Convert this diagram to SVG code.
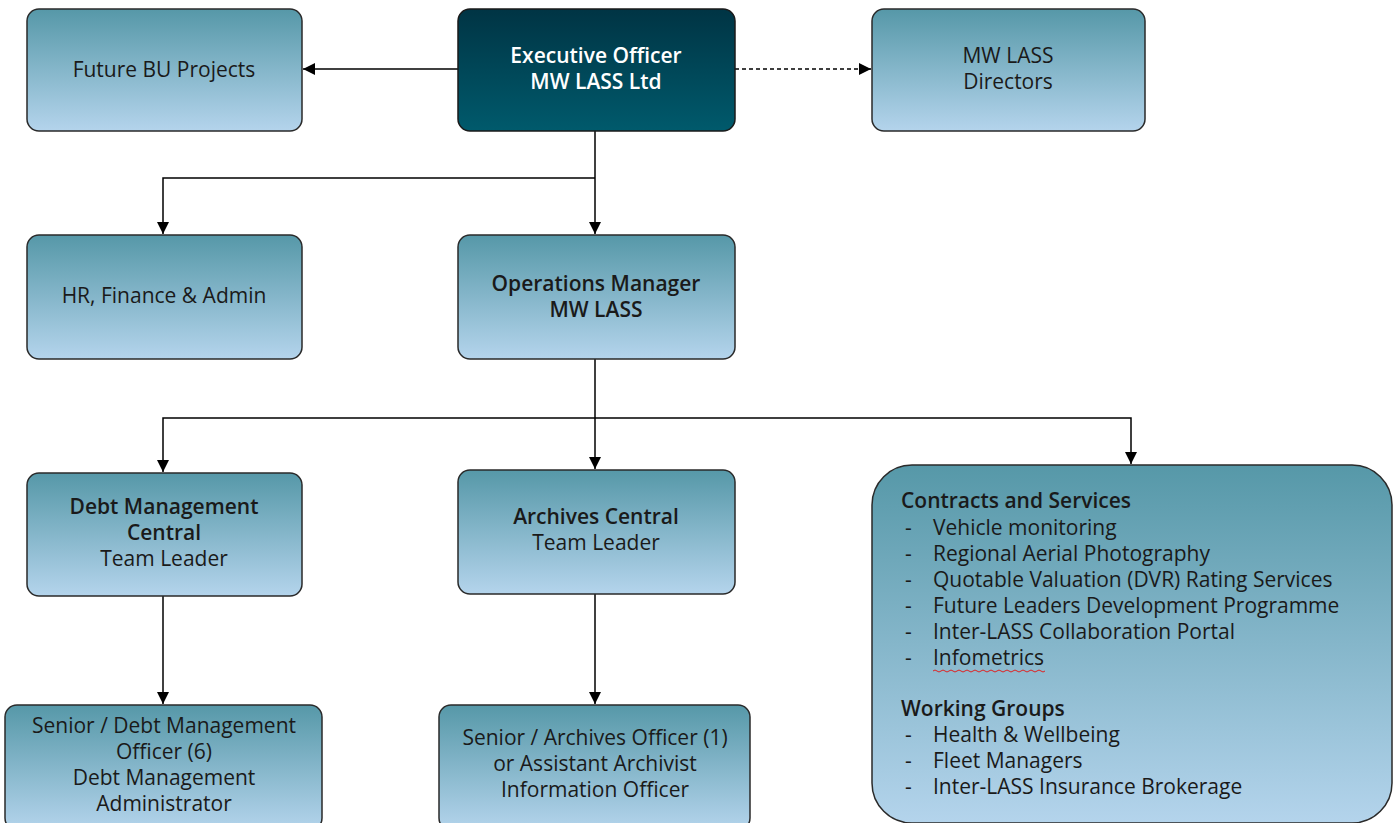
<svg xmlns="http://www.w3.org/2000/svg" width="1395" height="823" viewBox="0 0 1395 823">
<defs>
<linearGradient id="lg" x1="0" y1="0" x2="0" y2="1">
<stop offset="0" stop-color="#5698a8"/>
<stop offset="1" stop-color="#b4d4ec"/>
</linearGradient>
<linearGradient id="dg" x1="0" y1="0" x2="0" y2="1">
<stop offset="0" stop-color="#003444"/>
<stop offset="1" stop-color="#005a6c"/>
</linearGradient>
<marker id="ah" markerWidth="12" markerHeight="12" viewBox="0 0 12 12" refX="12" refY="6" orient="auto" markerUnits="userSpaceOnUse">
<path d="M0,0 L12,6 L0,12 z" fill="#000"/>
</marker>
</defs>
<style>
.box{fill:url(#lg);stroke:#2a2a2a;stroke-width:1.5}
.dark{fill:url(#dg);stroke:#1a1a1a;stroke-width:1.5}
text{font-family:"Open Sans","Liberation Sans",sans-serif;font-size:21px;fill:#1a1a1a}
.c{text-anchor:middle}
.w{fill:#ffffff;font-weight:600}
.b{font-weight:600}
.conn{fill:none;stroke:#000;stroke-width:1.5}
</style>
<rect width="1395" height="823" fill="#ffffff"/>
<g id="connectors">
<path class="conn" d="M458,69 H303" marker-end="url(#ah)"/>
<path class="conn" d="M735,69 H871" stroke-dasharray="4,3" marker-end="url(#ah)"/>
<path class="conn" d="M595,131 V234" marker-end="url(#ah)"/>
<path class="conn" d="M595,178 H163 V234" marker-end="url(#ah)"/>
<path class="conn" d="M595,359 V469" marker-end="url(#ah)"/>
<path class="conn" d="M595,418 H163 V472" marker-end="url(#ah)"/>
<path class="conn" d="M595,418 H1131 V464" marker-end="url(#ah)"/>
<path class="conn" d="M163,596 V704" stroke="#444" marker-end="url(#ah)"/>
<path class="conn" d="M595,594 V704" marker-end="url(#ah)"/>
</g>
<g id="future-bu">
<rect class="box" x="27" y="9" width="275" height="122" rx="12"/>
<text class="c" x="164" y="77">Future BU Projects</text>
</g>
<g id="exec">
<rect class="dark" x="458" y="9" width="277" height="122" rx="12"/>
<text class="c w" x="596" y="63">Executive Officer</text>
<text class="c w" x="596" y="89">MW LASS Ltd</text>
</g>
<g id="directors">
<rect class="box" x="872" y="9" width="273" height="122" rx="12"/>
<text class="c" x="1008" y="63">MW LASS</text>
<text class="c" x="1008" y="89">Directors</text>
</g>
<g id="hr">
<rect class="box" x="27" y="235" width="275" height="124" rx="12"/>
<text class="c" x="164" y="303">HR, Finance &amp; Admin</text>
</g>
<g id="ops">
<rect class="box" x="458" y="235" width="277" height="124" rx="12"/>
<text class="c b" x="596" y="291">Operations Manager</text>
<text class="c b" x="596" y="317">MW LASS</text>
</g>
<g id="debt">
<rect class="box" x="27" y="473" width="275" height="123" rx="12"/>
<text class="c b" x="164" y="514">Debt Management</text>
<text class="c b" x="164" y="540">Central</text>
<text class="c" x="164" y="566">Team Leader</text>
</g>
<g id="archives">
<rect class="box" x="458" y="470" width="277" height="124" rx="12"/>
<text class="c b" x="596" y="524">Archives Central</text>
<text class="c" x="596" y="550">Team Leader</text>
</g>
<g id="contracts">
<rect class="box" x="872" y="465" width="520" height="358" rx="40"/>
<text class="b" x="901" y="508">Contracts and Services</text>
<text x="905" y="535">-</text><text x="933" y="535">Vehicle monitoring</text>
<text x="905" y="561">-</text><text x="933" y="561">Regional Aerial Photography</text>
<text x="905" y="587">-</text><text x="933" y="587">Quotable Valuation (DVR) Rating Services</text>
<text x="905" y="613">-</text><text x="933" y="613">Future Leaders Development Programme</text>
<text x="905" y="639">-</text><text x="933" y="639">Inter-LASS Collaboration Portal</text>
<text x="905" y="665">-</text><text x="933" y="665">Infometrics</text>
<path d="M933,671 q2,-2 4,0 t4,0 t4,0 t4,0 t4,0 t4,0 t4,0 t4,0 t4,0 t4,0 t4,0 t4,0 t4,0 t4,0 t4,0 t4,0 t4,0 t4,0 t4,0 t4,0 t4,0 t4,0 t4,0 t4,0 t4,0 t4,0 t4,0 t4,0" fill="none" stroke="#e02020" stroke-width="1"/>
<text class="b" x="901" y="716">Working Groups</text>
<text x="905" y="742">-</text><text x="933" y="742">Health &amp; Wellbeing</text>
<text x="905" y="768">-</text><text x="933" y="768">Fleet Managers</text>
<text x="905" y="794">-</text><text x="933" y="794">Inter-LASS Insurance Brokerage</text>
</g>
<g id="senior-debt">
<rect class="box" x="5" y="705" width="317" height="125" rx="12"/>
<text class="c" x="164" y="733">Senior / Debt Management</text>
<text class="c" x="164" y="759">Officer (6)</text>
<text class="c" x="164" y="785">Debt Management</text>
<text class="c" x="164" y="811">Administrator</text>
</g>
<g id="senior-archives">
<rect class="box" x="439" y="705" width="311" height="125" rx="12"/>
<text class="c" x="595" y="745">Senior / Archives Officer (1)</text>
<text class="c" x="595" y="771">or Assistant Archivist</text>
<text class="c" x="595" y="797">Information Officer</text>
</g>
</svg>
